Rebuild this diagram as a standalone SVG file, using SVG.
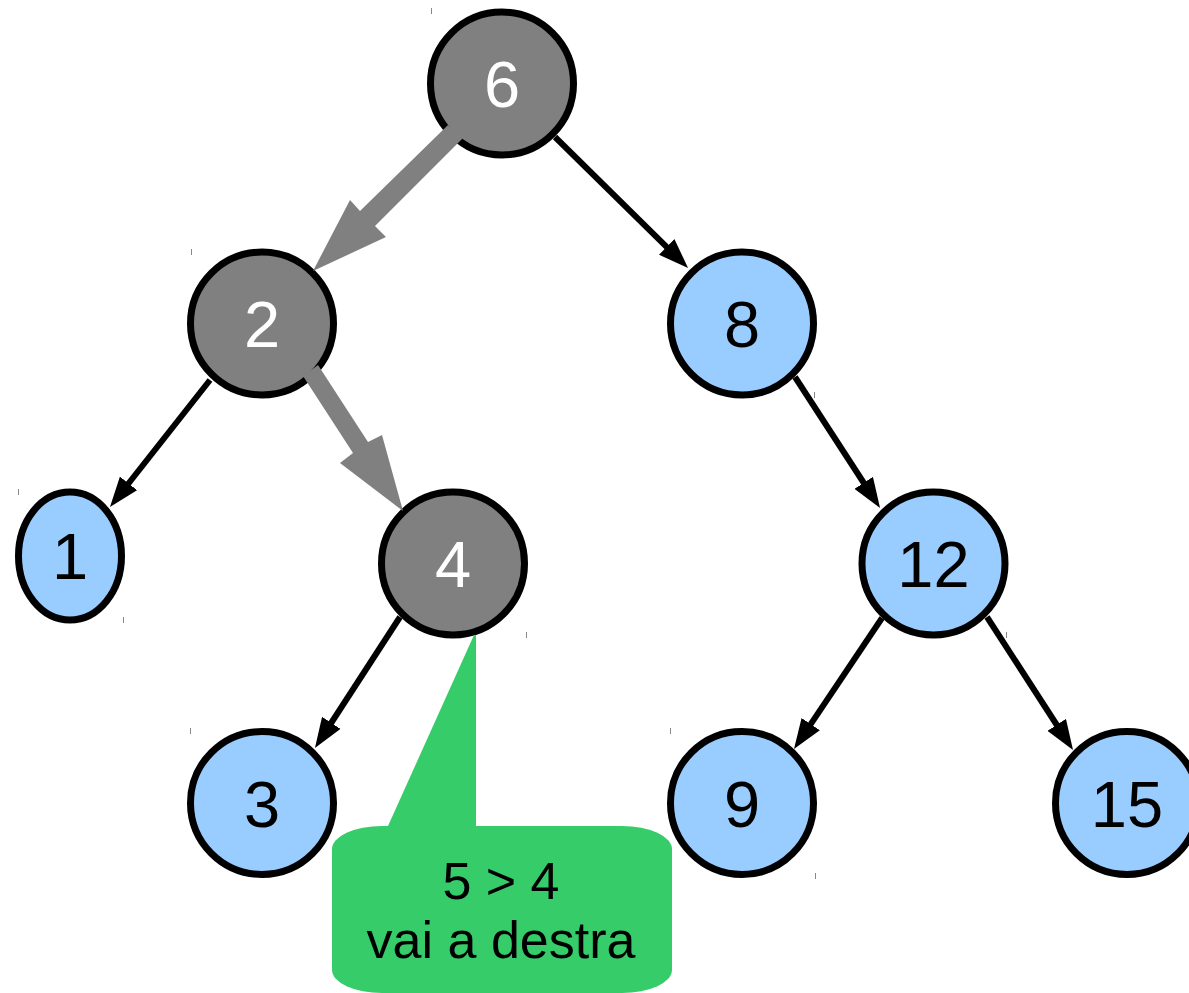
<svg xmlns="http://www.w3.org/2000/svg" width="1189" height="993" viewBox="0 0 1189 993">
<defs>
<style>
.node{stroke:#000;stroke-width:7}
.g{fill:#808080}
.b{fill:#99ccff}
.lbl{font-family:"Liberation Sans",Arial,sans-serif;font-size:65px;text-anchor:middle}
.w{fill:#fff}
.k{fill:#000}
.edge{stroke:#000;stroke-width:6;fill:none;marker-end:url(#ah)}
.gray{fill:#808080}
.tick{stroke:#888;stroke-width:1}
.note{font-family:"Liberation Sans",Arial,sans-serif;font-size:52px;text-anchor:middle;fill:#000}
</style>
<marker id="ah" markerUnits="userSpaceOnUse" markerWidth="30" markerHeight="22" refX="2" refY="11" orient="auto">
<path d="M0,0 L30,11 L0,22 z" fill="#000"/>
</marker>
</defs>
<rect width="1189" height="993" fill="#fff"/>

<g id="ticks">
<line class="tick" x1="431.5" y1="8" x2="431.5" y2="14"/>
<line class="tick" x1="191.5" y1="249" x2="191.5" y2="255"/>
<line class="tick" x1="18.5" y1="489" x2="18.5" y2="495"/>
<line class="tick" x1="123.5" y1="617" x2="123.5" y2="623"/>
<line class="tick" x1="526.5" y1="632" x2="526.5" y2="638"/>
<line class="tick" x1="190.5" y1="728" x2="190.5" y2="734"/>
<line class="tick" x1="670.5" y1="728" x2="670.5" y2="734"/>
<line class="tick" x1="814.5" y1="392" x2="814.5" y2="398"/>
<line class="tick" x1="1006.5" y1="632" x2="1006.5" y2="638"/>
<line class="tick" x1="815.5" y1="873" x2="815.5" y2="879"/>
</g>

<g id="node-6"><circle class="node g" cx="502" cy="83.5" r="71.5"/><text class="lbl w" x="502" y="107">6</text></g>
<g id="node-2"><circle class="node g" cx="262" cy="323.5" r="71.5"/><text class="lbl w" x="262" y="347">2</text></g>
<g id="node-8"><circle class="node b" cx="742" cy="323.5" r="71.5"/><text class="lbl k" x="742" y="347">8</text></g>
<g id="node-1"><ellipse class="node b" cx="70" cy="556" rx="51.5" ry="64"/><text class="lbl k" x="70" y="579">1</text></g>
<g id="node-4"><circle class="node g" cx="453" cy="563.5" r="71.5"/><text class="lbl w" x="453" y="587">4</text></g>
<g id="node-12"><circle class="node b" cx="933.5" cy="563.5" r="71.5"/><text class="lbl k" x="933.5" y="587">12</text></g>
<g id="node-3"><circle class="node b" cx="262" cy="803" r="71.5"/><text class="lbl k" x="262" y="826.5">3</text></g>
<g id="node-9"><circle class="node b" cx="742" cy="803" r="71.5"/><text class="lbl k" x="742" y="826.5">9</text></g>
<g id="node-15"><circle class="node b" cx="1127" cy="803" r="71.5"/><text class="lbl k" x="1127" y="826.5">15</text></g>

<g id="connectors">
<line class="edge" x1="555" y1="137" x2="668.1" y2="248.3"/>
<line class="edge" x1="210" y1="380" x2="127.3" y2="485"/>
<line class="edge" x1="400" y1="617" x2="330.2" y2="724.5"/>
<line class="edge" x1="795" y1="377" x2="864.8" y2="484.5"/>
<line class="edge" x1="882" y1="618" x2="809.6" y2="725.8"/>
<line class="edge" x1="987" y1="617" x2="1057.8" y2="726.5"/>
<polygon class="gray" points="448,125 360,211 350,200 313,271 386,237 375,226 463,138"/>
<polygon class="gray" points="303,376 353,453 340,463 403,511 382,435 368,442 318,365"/>
</g>

<g id="callout">
<path d="M388,826 L474,635 L476,635 L476,826 Z" fill="#36cc6a"/>
<rect x="332" y="826" width="340" height="167" rx="50" ry="23" fill="#36cc6a"/>
<text class="note" x="501" y="899">5 &gt; 4</text>
<text class="note" x="501" y="958">vai a destra</text>
</g>
</svg>
